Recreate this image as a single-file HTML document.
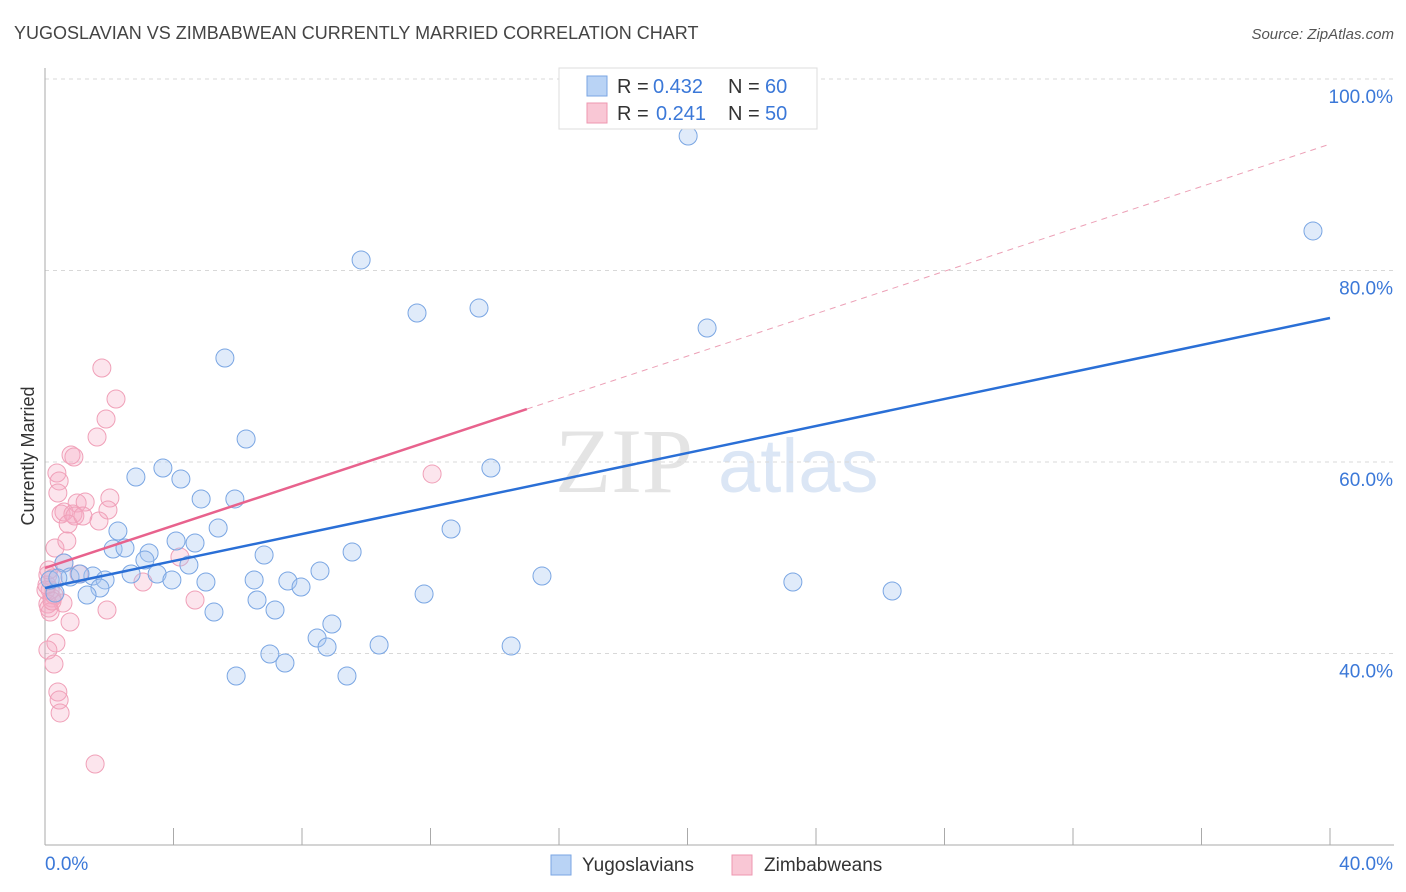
<!DOCTYPE html>
<html><head><meta charset="utf-8"><style>
body{margin:0;background:#fff;font-family:"Liberation Sans",sans-serif}
svg{display:block}
</style></head><body>
<svg id="chart" width="1406" height="892" viewBox="0 0 1406 892" xmlns="http://www.w3.org/2000/svg">
<text x="14" y="39" font-size="18" fill="#444" font-family="Liberation Sans, sans-serif">YUGOSLAVIAN VS ZIMBABWEAN CURRENTLY MARRIED CORRELATION CHART</text>
<text x="1394" y="39" font-size="15" fill="#555" font-style="italic" text-anchor="end">Source: ZipAtlas.com</text>
<g>
<text x="555" y="492" font-size="92" fill="#e4e4e4" font-family="Liberation Serif, serif">ZIP</text>
<text x="718" y="492" font-size="76" fill="#dbe6f5">atlas</text>
</g>
<g id="grid"></g>
<g id="axes"></g>
<g id="pts"></g>
<g id="lines"></g>
<text transform="translate(34,456) rotate(-90)" font-size="18" fill="#333" text-anchor="middle">Currently Married</text>
<g>
<rect x="559" y="68" width="258" height="61" fill="#fff" stroke="#ddd"/>
<rect x="587" y="76" width="20" height="20" fill="#b9d3f5" stroke="#7aa6e3"/>
<rect x="587" y="103" width="20" height="20" fill="#f9c7d5" stroke="#ee97b0"/>
<text x="617" y="93" font-size="20" fill="#333">R =</text>
<text x="653" y="93" font-size="20" fill="#3b78d8">0.432</text>
<text x="728" y="93" font-size="20" fill="#333">N =</text>
<text x="765" y="93" font-size="20" fill="#3b78d8">60</text>
<text x="617" y="120" font-size="20" fill="#333">R =</text>
<text x="656" y="120" font-size="20" fill="#3b78d8">0.241</text>
<text x="728" y="120" font-size="20" fill="#333">N =</text>
<text x="765" y="120" font-size="20" fill="#3b78d8">50</text>
</g>
<g>
<rect x="551" y="855" width="20" height="20" fill="#b9d3f5" stroke="#7aa6e3"/>
<text x="582" y="871" font-size="19" fill="#333">Yugoslavians</text>
<rect x="732" y="855" width="20" height="20" fill="#f9c7d5" stroke="#ee97b0"/>
<text x="764" y="871" font-size="19" fill="#333">Zimbabweans</text>
</g>
</svg>
<script>
const yTicks=[40,60,80,100];
const yTickLabels=["40.0%","60.0%","80.0%","100.0%"];
const xTicks=[0,4,8,12,16,20,24,28,32,36,40];
const xEndLabels=["0.0%","40.0%"];
const blueX=[20.02,39.47,9.84,11.58,13.51,20.61,5.60,6.26,2.83,3.67,4.23,13.88,4.86,5.91,5.39,2.27,12.64,2.12,2.49,3.24,4.08,4.67,3.11,4.48,6.82,9.56,8.56,15.47,23.28,26.37,0.59,0.78,1.49,1.09,1.87,2.68,3.49,3.95,5.01,6.51,7.56,7.97,1.71,1.31,6.60,5.26,7.16,11.80,8.93,8.47,8.78,10.40,14.51,7.00,7.47,5.95,9.40,0.31,0.16,0.40];
const blueY=[94.05,84.13,81.10,75.56,76.08,73.99,70.86,62.40,58.43,59.37,58.22,59.37,56.14,56.14,53.11,52.79,53.00,50.91,51.02,50.50,51.75,51.54,49.76,49.24,50.29,50.60,48.62,48.09,47.47,46.53,49.45,47.99,48.09,48.30,47.68,48.30,48.30,47.68,47.47,47.68,47.57,46.94,46.84,46.11,45.59,44.33,44.54,46.21,43.08,41.62,40.68,40.89,40.78,39.95,39.01,37.65,37.65,46.32,47.68,47.88];
const pinkX=[1.77,2.21,1.90,1.62,0.81,0.90,0.37,0.44,0.40,2.02,1.00,1.25,0.50,0.59,1.96,0.87,0.93,1.68,0.72,1.18,0.31,0.68,4.20,12.05,0.59,1.06,0.09,0.25,0.16,0.22,0.56,0.09,0.12,0.16,1.93,4.67,3.05,0.78,0.34,0.09,0.28,0.40,0.44,0.47,1.56,0.03,0.06,0.28,0.12,0.22];
const pinkY=[69.82,66.58,64.49,62.61,60.73,60.52,58.85,58.02,56.76,56.24,55.72,55.82,54.57,54.78,54.99,54.57,54.36,53.84,53.52,54.36,51.02,51.75,50.08,58.75,49.45,48.30,48.20,47.88,46.63,45.80,45.27,45.17,44.75,44.33,44.54,45.59,47.47,43.29,41.10,40.36,38.90,35.98,35.14,33.79,28.46,46.63,47.15,46.11,48.72,45.48];
const blueTrend=[46.84,75.04];
const pinkTrend=[48.93,93.2];
const pinkSolidEnd=15.0;

const NS="http://www.w3.org/2000/svg";
const X0=45,X1=1330,Y100=79,PER=9.575;
const sx=v=>X0+(v/40)*(X1-X0);
const sy=v=>Y100+(100-v)*PER;
function mk(tag,attrs,parent){const e=document.createElementNS(NS,tag);for(const k in attrs)e.setAttribute(k,attrs[k]);parent.appendChild(e);return e;}
const grid=document.getElementById('grid'),axes=document.getElementById('axes'),pts=document.getElementById('pts'),lines=document.getElementById('lines');
yTicks.forEach((t,i)=>{
 const l=mk('line',{x1:X0,x2:1394,y1:sy(t),y2:sy(t),stroke:'#d8d8d8','stroke-dasharray':'4,4'},grid);
 
 
 const tx=mk('text',{x:1393,y:sy(t)+24,'font-size':19,fill:'#3b78d8','text-anchor':'end'},grid);
 tx.textContent=yTickLabels[i];
 
 
});
const ax=mk('line',{x1:X0,x2:X0,y1:68,y2:845,stroke:'#aaa'},axes);


const bx=mk('line',{x1:X0,x2:1394,y1:845,y2:845,stroke:'#aaa'},axes);


xTicks.forEach(t=>{
 const l=mk('line',{x1:sx(t),x2:sx(t),y1:828,y2:845,stroke:'#aaa'},axes);
 
 
});
const xl0=mk('text',{x:45,y:870,'font-size':19,fill:'#3b78d8'},axes);xl0.textContent=xEndLabels[0];


const xl1=mk('text',{x:1393,y:870,'font-size':19,fill:'#3b78d8','text-anchor':'end'},axes);xl1.textContent=xEndLabels[1];


pinkX.forEach((v,i)=>{
 const c=mk('circle',{cx:sx(v),cy:sy(pinkY[i]),r:9,fill:'rgba(245,170,195,0.3)',stroke:'#f0a0b8','stroke-width':1},pts);
 
 
});
blueX.forEach((v,i)=>{
 const c=mk('circle',{cx:sx(v),cy:sy(blueY[i]),r:9,fill:'rgba(165,198,240,0.35)',stroke:'#7aa6e3','stroke-width':1},pts);
 
 
});
const bl=mk('line',{x1:sx(0),y1:sy(blueTrend[0]),x2:sx(40),y2:sy(blueTrend[1]),stroke:'#2a6fd6','stroke-width':2.5},lines);


const pm=pinkTrend[0]+(pinkTrend[1]-pinkTrend[0])*pinkSolidEnd/40;
const pl=mk('line',{x1:sx(0),y1:sy(pinkTrend[0]),x2:sx(pinkSolidEnd),y2:sy(pm),stroke:'#e8628d','stroke-width':2.5},lines);


const pd=mk('line',{x1:sx(pinkSolidEnd),y1:sy(pm),x2:sx(40),y2:sy(pinkTrend[1]),stroke:'#eca0b6','stroke-width':1,'stroke-dasharray':'6,5'},lines);


</script>
</body></html>
